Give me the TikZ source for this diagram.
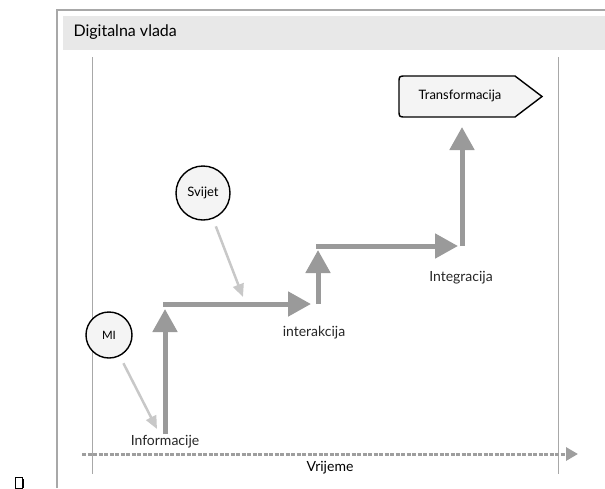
\documentclass[tikz,border=0pt]{standalone}
\usepackage{fontspec}
\setmainfont{Lato}
\usetikzlibrary{arrows.meta}
\definecolor{bar}{HTML}{9A9A9A}
\definecolor{light}{HTML}{C8C8C8}
\definecolor{frame}{HTML}{A8A8A8}
\definecolor{band}{HTML}{E8E8E8}
\definecolor{fillg}{HTML}{F4F4F4}
\definecolor{axis}{HTML}{9E9E9E}
\tikzset{
  stepbar/.style={draw=bar, line width=5pt, -{Triangle[width=24pt,length=23pt]}},
  influence/.style={draw=light, line width=2.5pt, -{Triangle[width=11pt,length=13pt]}},
  actor/.style={circle, draw=black, line width=1.4pt, fill=fillg, inner sep=0pt},
  phase/.style={font=\fontsize{14}{16}\selectfont, text=black!85},
}
\begin{document}
\begin{tikzpicture}[x=1pt,y=-1pt]
\useasboundingbox (0,0) rectangle (605,488);
% frame
\fill[band] (63,16) rectangle (605,50);
\draw[frame, line width=2pt] (57,488) -- (57,10) -- (605,10);
\node[anchor=west, font=\fontsize{16}{18}\selectfont] (title) at (70,32) {Digitalna vlada};
\draw[frame, line width=0.9pt] (92,57) -- (92,474);
\draw[frame, line width=0.9pt] (558,57) -- (558,474);
% time axis
\coordinate (t0) at (82,454);
\coordinate (t1) at (578,454);
\draw[axis, line width=3pt, dash pattern=on 4pt off 1.5pt, -{Triangle[width=13pt,length=12pt]}] (t0) -- (t1);
\node[font=\fontsize{14}{16}\selectfont] (vrijeme) at (330,468) {Vrijeme};
% step coordinates
\coordinate (a0) at (165,434);
\coordinate (a1) at (165,309);
\coordinate (b0) at (163,304);
\coordinate (b1) at (311,304);
\coordinate (c0) at (318,304);
\coordinate (c1) at (318,250);
\coordinate (d0) at (316,246);
\coordinate (d1) at (458,246);
\coordinate (e0) at (462,246);
\coordinate (e1) at (462,127);
\draw[stepbar] (a0) -- (a1);
\draw[stepbar] (b0) -- (b1);
\draw[stepbar] (c0) -- (c1);
\draw[stepbar] (d0) -- (d1);
\draw[stepbar] (e0) -- (e1);
% labels
\node[phase] (info) at (165,442) {Informacije};
\node[phase] (inter) at (314,333) {interakcija};
\node[phase] (integ) at (461,278) {Integracija};
% transformation
\draw[black, line width=1.4pt, fill=fillg, line join=miter]
  (515,76) -- (542,96.5) -- (515,117) -- (406,117)
  .. controls (399,117) .. (399,110) -- (399,83)
  .. controls (399,76) .. (406,76) -- cycle;
\node[font=\fontsize{13}{15}\selectfont] (trans) at (460,96) {Transformacija};
% actors
\node[actor, minimum size=46pt, font=\fontsize{11.5}{13}\selectfont] (mi) at (109,335) {MI};
\node[actor, minimum size=54pt, font=\fontsize{13}{15}\selectfont] (svijet) at (203,193) {Svijet};
\coordinate (m1) at (157,429);
\coordinate (s1) at (243,297);
\draw[influence, shorten <=8pt] (mi) -- (m1);
\draw[influence, shorten <=8pt] (svijet) -- (s1);
% small symbol
\draw[black, line width=0.9pt] (15,477) rectangle (22,488);
\draw[black, line width=1.6pt] (23.5,479) -- (23.5,488);
\end{tikzpicture}
\end{document}
